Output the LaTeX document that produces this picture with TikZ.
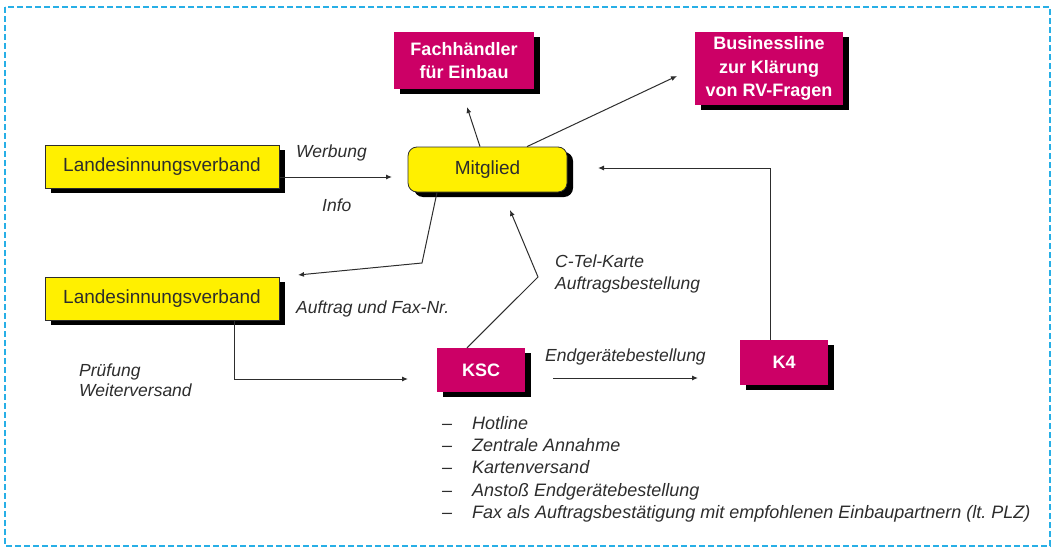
\documentclass[tikz,border=0pt]{standalone}
\usepackage{fontspec}
\setmainfont{Liberation Sans}
\usetikzlibrary{shadows,arrows.meta,calc}
\definecolor{mag}{RGB}{204,0,102}
\definecolor{yel}{RGB}{255,240,0}
\definecolor{framecol}{RGB}{40,175,230}
\definecolor{ink}{RGB}{45,45,45}
\frenchspacing
\begin{document}
\begin{tikzpicture}[x=1pt,y=-1pt,
  shad/.style={drop shadow={shadow xshift=6pt,shadow yshift=-5pt,fill=black,opacity=1}},
  magbox/.style={shad,fill=mag,text=white,font=\bfseries\fontsize{18}{23.5}\selectfont,align=center,inner sep=0pt},
  yelbox/.style={shad,fill=yel,draw=ink,line width=0.8pt,text=ink,font=\fontsize{19}{23}\selectfont,inner sep=0pt},
  lbl/.style={font=\itshape\fontsize{17.5}{21.5}\selectfont,text=ink,inner sep=0pt,anchor=west,align=left},
  listtxt/.style={font=\itshape\fontsize{18}{21}\selectfont,text=ink,inner sep=0pt,anchor=base west},
  conn/.style={draw=ink,line width=1pt},
  arr/.style={conn,-{Latex[length=6pt,width=5pt]}}]
\useasboundingbox (0,0) rectangle (1056,551);
\draw[framecol,line width=2pt,dash pattern=on 6pt off 3pt] (5,7) rectangle (1050,546);

% boxes
\node[magbox,minimum width=140pt,minimum height=57pt] (fach) at (464,60.5) {Fachhändler\\für Einbau};
\node[magbox,minimum width=148pt,minimum height=73pt] (bus) at (769,68.5) {Businessline\\zur Klärung\\von RV-Fragen};
\node[yelbox,minimum width=234pt,minimum height=43pt] (lv1) at (162,166.5) {Landesinnungsverband};
\node[yelbox,rounded corners=9pt,minimum width=159pt,minimum height=45pt] (mit) at (487.5,169.5) {Mitglied};
\node[yelbox,minimum width=234pt,minimum height=43pt] (lv2) at (162,298.5) {Landesinnungsverband};
\node[magbox,minimum width=88pt,minimum height=44pt] (ksc) at (481,370) {KSC};
\node[magbox,minimum width=88pt,minimum height=45pt] (k4) at (784,362.5) {K4};

% free ends
\coordinate (eLvMit) at (392,177);
\coordinate (eFach) at (467,107);
\coordinate (eBus) at (677,76);
\coordinate (eK4) at (598,168);
\coordinate (bLv2) at (422,263);
\coordinate (eLv2) at (298,275);
\coordinate (eKsc) at (408,379);
\coordinate (bKsc) at (538,277);
\coordinate (eMitK) at (510,210);
\coordinate (sEnd) at (553,378);
\coordinate (eEnd) at (698,378);

% connectors
\draw[arr] (lv1.east |- eLvMit) -- (eLvMit);
\draw[arr] ($(mit.north)+(-7.5,0)$) -- (eFach);
\draw[arr] ($(mit.north)+(39.5,0)$) -- (eBus);
\draw[arr] ($(k4.north)+(-14,0)$) |- (eK4);
\draw[arr] ($(mit.south)+(-50.5,0)$) -- (bLv2) -- (eLv2);
\draw[arr] ($(lv2.south)+(72,0)$) |- (eKsc);
\draw[arr] ($(ksc.north)+(-14,0)$) -- (bKsc) -- (eMitK);
\draw[arr] (sEnd) -- (eEnd);

% labels
\node[lbl] (tWerb) at (296,153) {Werbung};
\node[lbl] (tInfo) at (322,205) {Info};
\node[lbl] (tAuf) at (296,309) {Auftrag und Fax-Nr.};
\node[lbl] (tCtel) at (555,274) {C-Tel-Karte\\Auftragsbestellung};
\node[lbl,font=\itshape\fontsize{17.5}{20}\selectfont] (tPruef) at (79,380) {Prüfung\\Weiterversand};
\node[lbl] (tEnd) at (545,357) {Endgerätebestellung};

% list
\foreach \t [count=\i] in {Hotline,Zentrale Annahme,Kartenversand,Anstoß Endgerätebestellung,Fax als Auftragsbestätigung mit empfohlenen Einbaupartnern (lt. PLZ)}{
  \node[listtxt] (d\i) at (442,{429.5+22.2*(\i-1)}) {--};
  \node[listtxt] (l\i) at (472,{429.5+22.2*(\i-1)}) {\t};
}
\end{tikzpicture}
\end{document}
